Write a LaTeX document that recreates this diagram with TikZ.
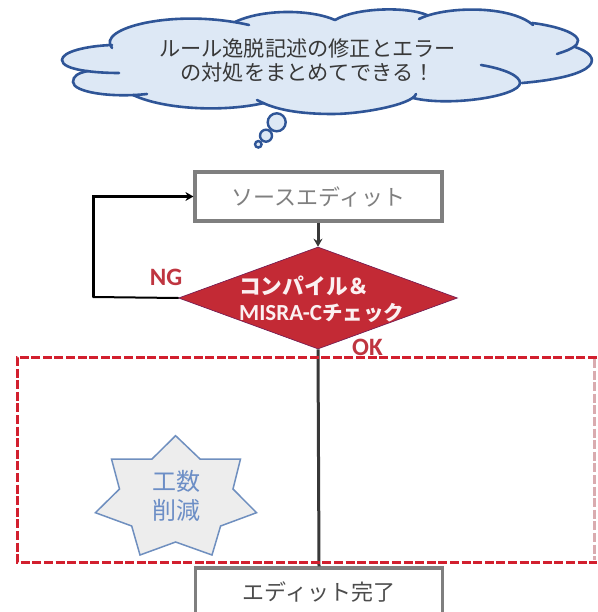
\documentclass[tikz,border=0pt]{standalone}
\usepackage{fontspec}
\usetikzlibrary{shapes.geometric,arrows.meta}
\newfontfamily\jpf{Noto Sans CJK JP}
\newfontfamily\latf{Carlito}
\definecolor{cloudline}{HTML}{2F5597}
\definecolor{cloudfill}{HTML}{DDE8F5}
\definecolor{boxgray}{HTML}{7F7F7F}
\definecolor{crimson}{HTML}{C32A35}
\definecolor{labelred}{HTML}{BF3540}
\definecolor{dashred}{HTML}{D21F2E}
\definecolor{dashpale}{HTML}{D9ABAF}
\definecolor{starline}{HTML}{6F8FBF}
\definecolor{starfill}{HTML}{EDEDED}
\definecolor{startext}{HTML}{6C8EC6}
\tikzset{
  lobe/.style={draw=cloudline,line width=2.6pt,line cap=round},
  bubble/.style={circle,draw=cloudline,fill=cloudfill,line width=2.4pt,inner sep=0pt},
  flowbox/.style={rectangle,draw=boxgray,fill=white,line width=3.2pt,minimum width=247pt,minimum height=49pt,inner sep=0pt,font=\jpf\fontsize{22}{25}\selectfont},
  decision/.style={diamond,draw=crimson!70!black!80!blue,fill=crimson,line width=0.6pt,shape aspect=2.725,minimum width=279pt,minimum height=102pt,inner sep=0pt},
  rlabel/.style={font=\latf\bfseries\fontsize{25}{27}\selectfont,text=labelred,inner sep=0pt},
  wlabel/.style={font=\jpf\bfseries\fontsize{20.5}{24}\selectfont,text=white!93!crimson,inner sep=0pt},
  dashrun/.style={line width=3pt,dash pattern=on 9pt off 2.6pt},
  conn/.style={line width=3pt,draw=black!78},
  tip/.style={-{Stealth[length=8pt,width=9pt]}}
}
\begin{document}
\begin{tikzpicture}[x=1pt,y=-1pt]
\useasboundingbox (0,0) rectangle (597,612);
\clip (0,0) rectangle (597,612);
\fill[white] (0,0) rectangle (597,612);
% cloud body
\fill[cloudfill] (112,48) .. controls (95,28) and (175,8) .. (249,25) -- (235,22)
  .. controls (262,9) and (310,9) .. (335,20)
  .. controls (355,8) and (405,6) .. (427,15) -- (419,19)
  .. controls (445,6) and (510,5) .. (533,25)
  .. controls (565,27) and (590,38) .. (572,48) -- (575,47)
  .. controls (603,56) and (603,76) .. (522,83)
  .. controls (520,96) and (450,107) .. (413,98) -- (416,94)
  .. controls (412,105) and (360,114) .. (333,114)
  .. controls (300,114) and (275,110) .. (257,100) -- (264,103)
  .. controls (225,112) and (165,110) .. (133,95) -- (147,94)
  .. controls (110,98) and (73,92) .. (73,82)
  .. controls (73,76) and (78,73) .. (88,71) -- (119,73)
  .. controls (95,73) and (62,70) .. (62,60)
  .. controls (62,52) and (85,46) .. (112,45) -- cycle;
% cloud lobes
\draw[lobe] (112,48) .. controls (95,28) and (175,8) .. (249,25);
\draw[lobe] (235,22) .. controls (262,9) and (310,9) .. (335,20);
\draw[lobe] (335,20) .. controls (355,8) and (405,6) .. (427,15);
\draw[lobe] (419,19) .. controls (445,6) and (510,5) .. (533,25);
\draw[lobe] (532,23) .. controls (565,27) and (590,38) .. (572,48) .. controls (567,51) and (562,52) .. (557,54);
\draw[lobe] (575,47) .. controls (603,56) and (603,76) .. (522,83);
\draw[lobe] (481,65) .. controls (505,69) and (520,76) .. (520,83) .. controls (520,96) and (450,107) .. (413,98);
\draw[lobe] (416,94) .. controls (412,105) and (360,114) .. (333,114) .. controls (300,114) and (275,110) .. (257,100);
\draw[lobe] (264,103) .. controls (225,112) and (165,110) .. (133,95);
\draw[lobe] (147,94) .. controls (110,98) and (73,92) .. (73,82) .. controls (73,76) and (78,73) .. (88,71);
\draw[lobe] (119,73) .. controls (95,73) and (62,70) .. (62,60) .. controls (62,52) and (85,46) .. (112,45);
\node[bubble,minimum size=18pt] (b1) at (276.7,122.3) {};
\node[bubble,minimum size=12pt] (b2) at (266,135.7) {};
\node[bubble,minimum size=6.5pt] (b3) at (258.3,144.3) {};
\node[font=\jpf\fontsize{21.2}{24.5}\selectfont,text=black!78,align=center,inner sep=0pt] (say) at (307.5,60.5) {ルール逸脱記述の修正とエラー\\の対処をまとめてできる！};
% dashed frame
\coordinate (fa) at (17,357);
\coordinate (fb) at (597,357);
\coordinate (fc) at (597,562);
\coordinate (fd) at (17,562);
\coordinate (fe) at (594,359);
\coordinate (ff) at (594,560);
\draw[dashrun,draw=dashpale] (fe) -- (ff);
% flow
\node[flowbox,text=boxgray] (src) at (318.5,196.5) {ソースエディット};
\node[decision] (dia) at (318,298) {};
\node[flowbox,text=black!70] (done) at (319,592.5) {エディット完了};
\coordinate (lb) at (93,297);
\coordinate (lt) at (93,196.5);
\draw[conn,tip,xshift=-1.5pt] (dia.north |- src.south) -- (dia.north);
\draw[line width=2pt,black,line cap=round] (dia.west) -- (lb);
\draw[line width=3pt,black,tip] (lb) -- (lt) -- (src.west);
\draw[conn,line width=3pt] (dia.south) -- (done.north);
\draw[dashrun,draw=dashred] (fb) -- (fa) -- (fd) -- (fc);
\node[wlabel,anchor=west] (l1) at (239,286) {\fontsize{21.7}{24}\selectfont コンパイル＆};
\node[wlabel,anchor=west] (l2) at (239,313) {{\latf\bfseries\fontsize{23}{24}\selectfont MISRA-C}チェック};
\node[rlabel] (ng) at (166,277) {NG};
\node[rlabel] (ok) at (367.5,347) {OK};
% star
\path[draw=starline,fill=starfill,line width=1.5pt,line join=miter]
  (175.6,435.7) -- (200,459) -- (240.5,459) -- (233,489) -- (256.5,512.7) -- (220.6,526) -- (212,555)
  -- (175.6,542) -- (140,555) -- (131.7,526) -- (95.4,512.7) -- (119.5,489) -- (111.5,459) -- (152,459) -- cycle;
\node[font=\jpf\fontsize{24}{29}\selectfont,text=startext,align=center,inner sep=0pt] (cut) at (176,496) {工数\\削減};
\end{tikzpicture}
\end{document}
